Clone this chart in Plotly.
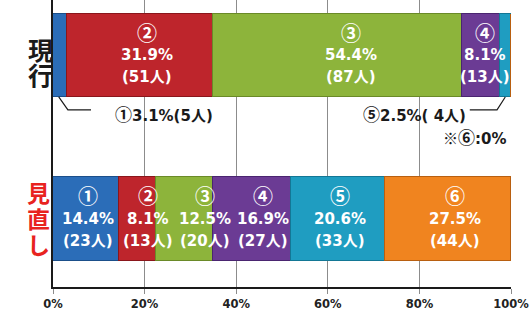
import plotly.graph_objects as go

# ---- data ----
segments = ["①", "②", "③", "④", "⑤", "⑥"]
rows = ["見直し", "現行"]          # y positions 0, 1
current_pct = [3.1, 31.9, 54.4, 8.1, 2.5, 0.0]
current_n = [5, 51, 87, 13, 4, 0]
review_pct = [14.4, 8.1, 12.5, 16.9, 20.6, 27.5]
review_n = [23, 13, 20, 27, 33, 44]
tick_vals = [0, 20, 40, 60, 80, 100]
tick_text = ["0%", "20%", "40%", "60%", "80%", "100%"]

colors = ["#2B6DB8", "#BE252C", "#8DB43B", "#6B3B94", "#1F9DC1", "#F0841F"]
edges = ["#1B4F8A", "#8A161B", "#6A8A28", "#4A2570", "#137795", "#B85F10"]

# label nudges (pixels) to keep neighbouring labels apart, as in the original
current_xshift = [0, 7, 13, 4, 0, 0]
review_xshift = [2, 10, 20, 11, 2, 7]

FONT = "DejaVu Sans, Noto Sans CJK JP"
CJK = "Noto Sans CJK JP"
BAR_W = 0.508


def circ(s, size=17):
    return f'<span style="font-family:{CJK};font-size:{size}px">{s}</span>'


fig = go.Figure()
for i, seg in enumerate(segments):
    fig.add_trace(go.Bar(
        orientation="h",
        x=[review_pct[i], current_pct[i]],
        y=[0, 1],
        width=BAR_W,
        marker=dict(color=colors[i], line=dict(color=edges[i], width=1)),
        name=seg,
        showlegend=False,
        hoverinfo="skip",
    ))

annotations = []
# inside labels
for row_y, pcts, ns, shifts in [(1, current_pct, current_n, current_xshift),
                                (0, review_pct, review_n, review_xshift)]:
    cum = 0.0
    for i, (p, n) in enumerate(zip(pcts, ns)):
        mid = cum + p / 2
        cum += p
        if p < 5:
            continue
        for txt, sh, fam, sz in [(segments[i], 23, CJK, 20),
                                 (f"{p:.1f}%", 0, FONT, 15),
                                 (f"({n}人)", -22, FONT, 15)]:
            annotations.append(dict(
                x=mid, y=row_y, xref="x", yref="y", text=f"<b>{txt}</b>",
                showarrow=False, yshift=sh, xshift=shifts[i],
                font=dict(family=fam, size=sz, color="white"),
            ))

# row labels (vertical text, stacked characters)
for ch, sh in zip(rows[1], [6.5, -18.5]):
    annotations.append(dict(x=-0.058, y=1, xref="paper", yref="y", text=f"<b>{ch}</b>",
                            showarrow=False, yshift=sh,
                            font=dict(family=CJK, size=25, color="#1a1a1a")))
for ch, sh in zip(rows[0], [26.5, 0.5, -25]):
    annotations.append(dict(x=-0.061, y=0, xref="paper", yref="y", text=f"<b>{ch}</b>",
                            showarrow=False, yshift=sh,
                            font=dict(family=CJK, size=23, color="#E8231F")))

# outside labels for small segments of the current row
mid1 = current_pct[0] / 2
mid5 = sum(current_pct[:4]) + current_pct[4] / 2
bar_bottom = 1 - BAR_W / 2
lead_y = 0.667
annotations.append(dict(x=24.2, y=0.642, xref="x", yref="y",
                        text=f"<b>{circ(segments[0])}{current_pct[0]:.1f}%({current_n[0]}人)</b>",
                        showarrow=False, font=dict(family=FONT, size=15, color="#1a1a1a")))
annotations.append(dict(x=90.6, y=0.642, xref="x", yref="y", xanchor="right",
                        text=f"<b>{circ(segments[4])}{current_pct[4]:.1f}%( {current_n[4]}人)</b>",
                        showarrow=False, font=dict(family=FONT, size=15, color="#1a1a1a")))
annotations.append(dict(x=99.3, y=0.502, xref="x", yref="y", xanchor="right",
                        text=f"<b>{circ('※', 15)}{circ(segments[5])}:{current_pct[5]:.0f}%</b>",
                        showarrow=False, font=dict(family=FONT, size=15, color="#1a1a1a")))

shapes = [
    dict(type="path", xref="x", yref="y",
         path=f"M {mid1 - 0.3},{bar_bottom} L {mid1 + 1.7},{lead_y} L 8.3,{lead_y}",
         line=dict(color="#1a1a1a", width=1.2)),
    dict(type="path", xref="x", yref="y",
         path=f"M {mid5},{bar_bottom} L {mid5 - 1.8},{lead_y} L 91.0,{lead_y}",
         line=dict(color="#1a1a1a", width=1.2)),
]

fig.update_layout(
    barmode="stack",
    width=531, height=318,
    margin=dict(l=53, r=20, t=0, b=31),
    paper_bgcolor="white", plot_bgcolor="white",
    annotations=annotations,
    shapes=shapes,
    bargap=0,
    xaxis=dict(range=[0, 100], tickvals=tick_vals, ticktext=[f"<b>{t}</b>" for t in tick_text],
               showgrid=True, gridcolor="#8c8c8c", gridwidth=1,
               ticks="outside", ticklen=5, tickcolor="#8c8c8c",
               showline=True, linecolor="#1a1a1a", linewidth=1.5, zeroline=False,
               tickfont=dict(family=FONT, size=11.5, color="#222")),
    yaxis=dict(range=[-0.416, 1.339], showticklabels=False, showgrid=False, zeroline=False,
               showline=True, linecolor="#1a1a1a", linewidth=1.5, ticks=""),
)

fig.write_html("out.html", config={"displayModeBar": False},
               post_script="document.body.style.margin='0';")
